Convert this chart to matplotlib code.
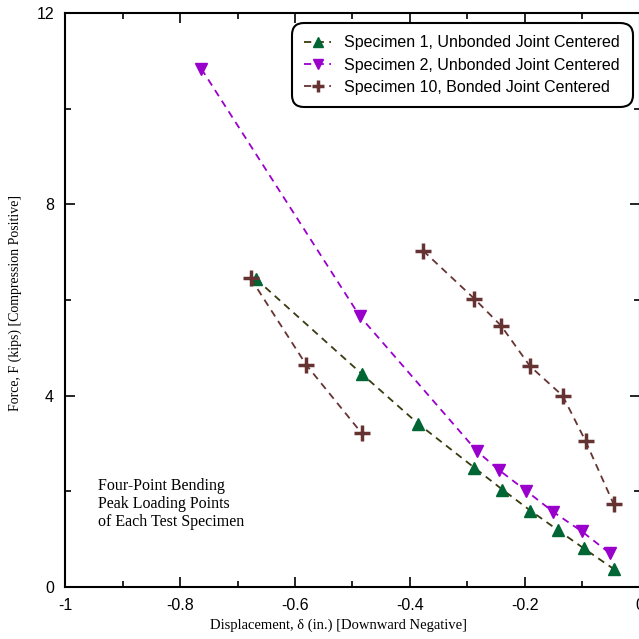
import numpy as np
import matplotlib
matplotlib.use("Agg")
import matplotlib.pyplot as plt
from matplotlib.ticker import MultipleLocator

# peak loading points (displacement in., force kips)
spec1_x = [-0.668, -0.484, -0.386, -0.288, -0.239, -0.190, -0.142, -0.097, -0.045]
spec1_y = [6.44, 4.46, 3.42, 2.50, 2.04, 1.60, 1.19, 0.81, 0.38]

spec2_x = [-0.763, -0.487, -0.283, -0.245, -0.197, -0.150, -0.101, -0.052]
spec2_y = [10.83, 5.66, 2.84, 2.45, 2.01, 1.57, 1.17, 0.71]

# specimen 10 has two separate runs, no line between them
spec10a_x = [-0.677, -0.580, -0.484]
spec10a_y = [6.45, 4.64, 3.22]
spec10b_x = [-0.377, -0.288, -0.241, -0.191, -0.134, -0.094, -0.045]
spec10b_y = [7.03, 6.03, 5.46, 4.62, 4.00, 3.05, 1.73]

labels = ["Specimen 1, Unbonded Joint Centered",
          "Specimen 2, Unbonded Joint Centered",
          "Specimen 10, Bonded Joint Centered"]

spec10_x = spec10a_x + [np.nan] + spec10b_x
spec10_y = spec10a_y + [np.nan] + spec10b_y

plt.rcParams['font.family'] = ['Liberation Sans', 'DejaVu Sans']

fig = plt.figure(figsize=(6.39, 6.39), dpi=100)
ax = fig.add_axes([0.102, 0.081, 0.899, 0.899])

ax.plot(spec1_x, spec1_y, ls=(0, (4, 3)), lw=1.3, color="#3a3a10",
        marker="^", ms=9, mfc="#006633", mec="#006633", label=labels[0])
ax.plot(spec2_x, spec2_y, ls=(0, (4, 3)), lw=1.3, color="#9900cc",
        marker="v", ms=9, mfc="#9900cc", mec="#9900cc", label=labels[1])
ax.plot(spec10_x, spec10_y, ls=(0, (4, 3)), lw=1.3, color="#663333",
        marker="+", ms=11, mew=2.5, mec="#663333", label=labels[2])

ax.set_xlim(-1, 0)
ax.set_ylim(0, 12)
ax.xaxis.set_major_locator(MultipleLocator(0.2))
ax.xaxis.set_minor_locator(MultipleLocator(0.1))
ax.yaxis.set_major_locator(MultipleLocator(4))
ax.yaxis.set_minor_locator(MultipleLocator(2))
ax.set_xticks(np.arange(-1, 0.01, 0.2))
ax.set_xticklabels(["-1", "-0.8", "-0.6", "-0.4", "-0.2", "0"])
ax.set_yticks([0, 4, 8, 12])
ax.set_yticklabels(["0", "4", "8", "12"])

ax.tick_params(which="both", direction="in", top=True, right=True, width=1.2)
ax.tick_params(which="major", length=7, labelsize=11.5)
ax.tick_params(axis="x", which="major", pad=8)
ax.tick_params(axis="y", which="major", pad=8)
ax.tick_params(which="minor", length=4.5)
for s in ax.spines.values():
    s.set_linewidth(1.5)

ax.set_xlabel("Displacement, \u03b4 (in.) [Downward Negative]",
              family="Liberation Serif", fontsize=10.5)
ax.xaxis.set_label_coords(0.475, -0.055)
ax.set_ylabel("Force, F (kips) [Compression Positive]",
              family="Liberation Serif", fontsize=10)
ax.yaxis.set_label_coords(-0.075, 0.495)

ax.text(0.057, 0.19, "Four-Point Bending\nPeak Loading Points\nof Each Test Specimen",
        transform=ax.transAxes, family="Liberation Serif", fontsize=11.5,
        va="top", ha="left", linespacing=1.15)

leg = ax.legend(loc="upper right", bbox_to_anchor=(0.988, 0.983), borderaxespad=0,
                fontsize=11.5, handlelength=1.7, handletextpad=0.8, markerscale=0.8,
                labelspacing=0.45, borderpad=0.8, fancybox=True, framealpha=1)
frame = leg.get_frame()
frame.set_edgecolor("black")
frame.set_linewidth(1.5)
frame.set_boxstyle("round,pad=0,rounding_size=0.8")

fig.savefig("out.png", dpi=100)
